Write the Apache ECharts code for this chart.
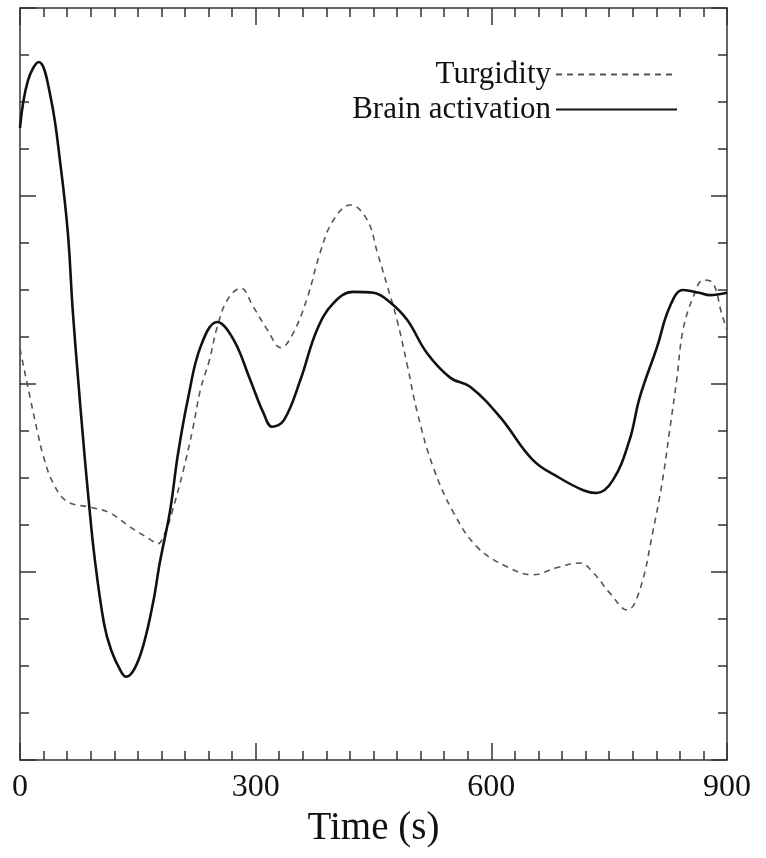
<!DOCTYPE html>
<html>
<head>
<meta charset="utf-8">
<script src="https://cdn.jsdelivr.net/npm/echarts@6/dist/echarts.min.js"></script>
<style>
html,body{margin:0;padding:0;background:#fff;}
#chart{width:766px;height:858px;}
</style>
</head>
<body>
<div id="chart"></div>
<script>
// Time axis ticks
const xTicks = [0, 300, 600, 900];
const xName = 'Time (s)';

// Brain activation (solid)
const brainTime = [0, 10, 24, 39, 52, 61, 67, 74, 80, 87, 95, 107, 116, 128, 135, 146, 158, 170, 178, 191, 201, 214, 230, 251, 272, 293, 310, 321, 336, 357, 378, 399, 424, 450, 471, 493, 518, 548, 573, 611, 653, 687, 717, 734, 755, 776, 789, 811, 827, 844, 865, 878, 900];
const brainValue = [13.45, 14.45, 14.85, 14.1, 12.6, 11.2, 9.6, 8.1, 6.9, 5.6, 4.3, 2.9, 2.34, 1.9, 1.77, 1.95, 2.5, 3.4, 4.2, 5.3, 6.5, 7.7, 8.8, 9.32, 8.94, 8.09, 7.38, 7.09, 7.23, 8.09, 9.15, 9.72, 9.96, 9.94, 9.74, 9.36, 8.66, 8.13, 7.94, 7.30, 6.38, 6.00, 5.74, 5.68, 5.96, 6.81, 7.72, 8.79, 9.64, 10.0, 9.94, 9.89, 9.94];

// Turgidity (dashed)
const turgTime = [0, 3, 13, 22, 30, 42, 60, 89, 114, 140, 165, 175, 185, 194, 208, 220, 230, 241, 251, 264, 281, 297, 315, 332, 348, 366, 382, 399, 421, 442, 455, 468, 480, 493, 506, 526, 552, 582, 620, 653, 683, 713, 729, 751, 773, 789, 806, 818, 827, 836, 844, 857, 870, 882, 893, 900];
const turgValue = [8.75, 8.5, 7.7, 7.0, 6.45, 5.9, 5.5, 5.38, 5.26, 4.96, 4.7, 4.6, 4.85, 5.3, 6.17, 7.05, 7.9, 8.5, 9.21, 9.79, 10.04, 9.64, 9.15, 8.77, 9.09, 9.85, 10.79, 11.49, 11.81, 11.49, 10.79, 10.06, 9.36, 8.4, 7.38, 6.23, 5.26, 4.53, 4.11, 3.94, 4.09, 4.19, 4.0, 3.55, 3.19, 3.62, 4.89, 5.96, 7.02, 8.09, 9.15, 9.85, 10.21, 10.15, 9.51, 9.15];

const seriesNames = ['Turgidity', 'Brain activation'];

const serif = 'Liberation Serif';
const axisColor = '#333';

function xAxisCfg(pos, showLabel) {
  return {
    type: 'value', position: pos, min: xTicks[0], max: xTicks[xTicks.length - 1],
    interval: xTicks[1] - xTicks[0],
    name: showLabel ? xName : '', nameLocation: 'middle', nameGap: 46,
    nameTextStyle: { fontFamily: serif, fontSize: 39, color: '#111' },
    axisLine: { show: true, onZero: false, lineStyle: { color: axisColor, width: 1.5 } },
    axisTick: { show: true, inside: true, length: 17, lineStyle: { color: axisColor, width: 1.5 } },
    minorTick: { show: true, splitNumber: 10, length: 9, lineStyle: { color: axisColor, width: 1.5 } },
    axisLabel: { show: showLabel, fontFamily: serif, fontSize: 32, color: '#111', margin: 12 },
    splitLine: { show: false }, minorSplitLine: { show: false }
  };
}
function yAxisCfg(pos) {
  return {
    type: 'value', position: pos, min: 0, max: 16, interval: 4,
    axisLine: { show: true, onZero: false, lineStyle: { color: axisColor, width: 1.5 } },
    axisTick: { show: true, inside: true, length: 16, lineStyle: { color: axisColor, width: 1.5 } },
    minorTick: { show: true, splitNumber: 4, length: 9, lineStyle: { color: axisColor, width: 1.5 } },
    axisLabel: { show: false },
    splitLine: { show: false }, minorSplitLine: { show: false }
  };
}

const chart = echarts.init(document.getElementById('chart'), null, { renderer: 'canvas' });
chart.setOption({
  animation: false,
  backgroundColor: '#fff',
  grid: { left: 20, right: 39, top: 8, bottom: 98, containLabel: false },
  legend: {
    data: seriesNames,
    orient: 'vertical', right: 83, top: 54, align: 'right',
    itemWidth: 121, itemHeight: 14, itemGap: 4,
    itemStyle: { opacity: 0, borderWidth: 0 },
    textStyle: { fontFamily: serif, fontSize: 31, color: '#111' }
  },
  xAxis: [xAxisCfg('bottom', true), xAxisCfg('top', false)],
  yAxis: [yAxisCfg('left'), yAxisCfg('right')],
  series: [
    {
      name: seriesNames[0], type: 'line', smooth: 0.4, symbol: 'none', showSymbol: false,
      lineStyle: { color: '#555', width: 1.6, type: [6, 5] },
      itemStyle: { color: '#555' },
      data: turgTime.map((t, i) => [t, turgValue[i]])
    },
    {
      name: seriesNames[1], type: 'line', smooth: 0.4, symbol: 'none', showSymbol: false,
      lineStyle: { color: '#111', width: 2.6 },
      itemStyle: { color: '#111' },
      data: brainTime.map((t, i) => [t, brainValue[i]])
    }
  ]
});
</script>
</body>
</html>
